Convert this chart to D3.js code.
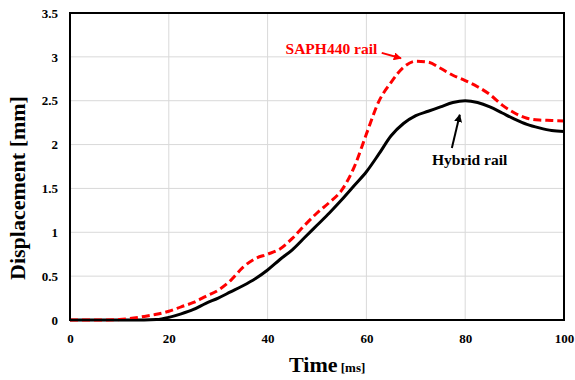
<!DOCTYPE html>
<html>
<head>
  <title>Displacement</title>
<script src="https://d3js.org/d3.v7.min.js"></script>
<style>
  body { margin: 0; background: white; }
  text { font-family: "Liberation Serif", "Times New Roman", serif; font-weight: bold; }
</style>
</head>
<body>
<div id="chart"></div>

<script>
  // time [ms]
  var time = [0, 2.5, 5, 7.5, 10, 12.5, 15, 17.5, 20, 22.5, 25, 27.5, 30, 32.5, 35, 37.5, 40,
    42.5, 45, 47.5, 50, 52.5, 55, 57.5, 60, 62.5, 65, 67.5, 70, 72.5, 75, 77.5, 80,
    82.5, 85, 87.5, 90, 92.5, 95, 97.5, 100];

  // displacement [mm]
  var saph440 = [0, 0, 0, 0, 0.005, 0.02, 0.04, 0.065, 0.10, 0.15, 0.20, 0.27, 0.34, 0.45, 0.60, 0.70, 0.75,
    0.81, 0.93, 1.08, 1.22, 1.34, 1.48, 1.74, 2.12, 2.49, 2.71, 2.88, 2.95, 2.94, 2.87, 2.79, 2.73,
    2.66, 2.57, 2.45, 2.36, 2.30, 2.28, 2.275, 2.27];

  var hybrid = [0, 0, 0, 0, 0, 0, 0, 0.005, 0.03, 0.07, 0.12, 0.19, 0.25, 0.32, 0.39, 0.47, 0.57,
    0.69, 0.80, 0.94, 1.08, 1.22, 1.37, 1.53, 1.69, 1.89, 2.10, 2.24, 2.33, 2.38, 2.43, 2.48, 2.50,
    2.48, 2.43, 2.36, 2.29, 2.23, 2.19, 2.16, 2.15];

  var xTicks = [0, 20, 40, 60, 80, 100];
  var yTicks = [0, 0.5, 1, 1.5, 2, 2.5, 3, 3.5];

  var margin = {top: 13, right: 11, bottom: 60, left: 70},
    width = 575 - margin.left - margin.right,
    height = 380 - margin.top - margin.bottom;

  var svg = d3.select("#chart")
    .append("svg")
    .attr("width", 575)
    .attr("height", 380)
    .append("g")
    .attr("transform", "translate(" + margin.left + "," + margin.top + ")");

  var x = d3.scaleLinear().domain([0, 100]).range([0, width]);
  var y = d3.scaleLinear().domain([0, 3.5]).range([height, 0]);

  // grid
  svg.selectAll("vgrid")
    .data(xTicks.slice(1, -1))
    .enter()
    .append("line")
      .attr("x1", function(d) { return x(d); })
      .attr("x2", function(d) { return x(d); })
      .attr("y1", 0)
      .attr("y2", height)
      .attr("stroke", "#d9d9d9")
      .attr("stroke-width", 1);

  svg.selectAll("hgrid")
    .data(yTicks.slice(1, -1))
    .enter()
    .append("line")
      .attr("x1", 0)
      .attr("x2", width)
      .attr("y1", function(d) { return y(d); })
      .attr("y2", function(d) { return y(d); })
      .attr("stroke", "#d9d9d9")
      .attr("stroke-width", 1);

  // axes
  var xAxis = svg.append("g")
    .attr("transform", "translate(0," + height + ")")
    .call(d3.axisBottom(x).tickValues(xTicks).tickSize(0).tickPadding(14));

  var yAxis = svg.append("g")
    .call(d3.axisLeft(y).tickValues(yTicks).tickSize(0).tickPadding(12)
      .tickFormat(function(d) { return d; }));

  [xAxis, yAxis].forEach(function(a) {
    a.select(".domain").remove();
    a.selectAll("text")
      .style("font-size", "13px")
      .style("font-family", "'Liberation Serif', serif")
      .style("font-weight", "bold")
      .attr("fill", "#000");
  });

  var line = d3.line()
    .x(function(d) { return x(d[0]); })
    .y(function(d) { return y(d[1]); })
    .curve(d3.curveMonotoneX);

  svg.append("path")
    .datum(d3.zip(time, hybrid))
    .attr("d", line)
    .attr("fill", "none")
    .attr("stroke", "#000")
    .attr("stroke-width", 3);

  svg.append("path")
    .datum(d3.zip(time, saph440))
    .attr("d", line)
    .attr("fill", "none")
    .attr("stroke", "#ff0000")
    .attr("stroke-width", 3)
    .attr("stroke-dasharray", "8,4");

  // frame
  svg.append("rect")
    .attr("width", width)
    .attr("height", height)
    .attr("fill", "none")
    .attr("stroke", "#000")
    .attr("stroke-width", 2);

  // arrow heads
  var defs = svg.append("defs");
  [["arrRed", "#ff0000"], ["arrBlack", "#000"]].forEach(function(m) {
    defs.append("marker")
      .attr("id", m[0])
      .attr("viewBox", "0 0 10 10")
      .attr("refX", 9)
      .attr("refY", 5)
      .attr("markerWidth", 4)
      .attr("markerHeight", 4)
      .attr("orient", "auto")
      .append("path")
        .attr("d", "M0,0L10,5L0,10z")
        .attr("fill", m[1]);
  });

  // annotations
  svg.append("text")
    .attr("x", x(62.2))
    .attr("y", y(3.03))
    .attr("text-anchor", "end")
    .attr("fill", "#ff0000")
    .style("font-size", "15.5px")
    .text("SAPH440 rail");

  svg.append("line")
    .attr("x1", x(63.1)).attr("y1", y(3.045))
    .attr("x2", x(67)).attr("y2", y(2.985))
    .attr("stroke", "#ff0000")
    .attr("stroke-width", 2)
    .attr("marker-end", "url(#arrRed)");

  svg.append("text")
    .attr("x", x(80.9))
    .attr("y", y(1.77))
    .attr("text-anchor", "middle")
    .attr("fill", "#000")
    .style("font-size", "15.5px")
    .text("Hybrid rail");

  svg.append("line")
    .attr("x1", x(77.3)).attr("y1", y(1.96))
    .attr("x2", x(78.9)).attr("y2", y(2.34))
    .attr("stroke", "#000")
    .attr("stroke-width", 2)
    .attr("marker-end", "url(#arrBlack)");

  // axis titles
  svg.append("text")
    .attr("transform", "translate(" + (-45) + "," + (188 - margin.top) + ") rotate(-90)")
    .attr("text-anchor", "middle")
    .style("font-size", "22px")
    .text("Displacement [mm]");

  var xt = svg.append("text")
    .attr("x", 289 - margin.left)
    .attr("y", 372 - margin.top)
    .attr("text-anchor", "start")
    .style("font-size", "22px");
  xt.append("tspan").text("Time");
  xt.append("tspan").style("font-size", "13px").text(" [ms]");
</script>
</body>
</html>
